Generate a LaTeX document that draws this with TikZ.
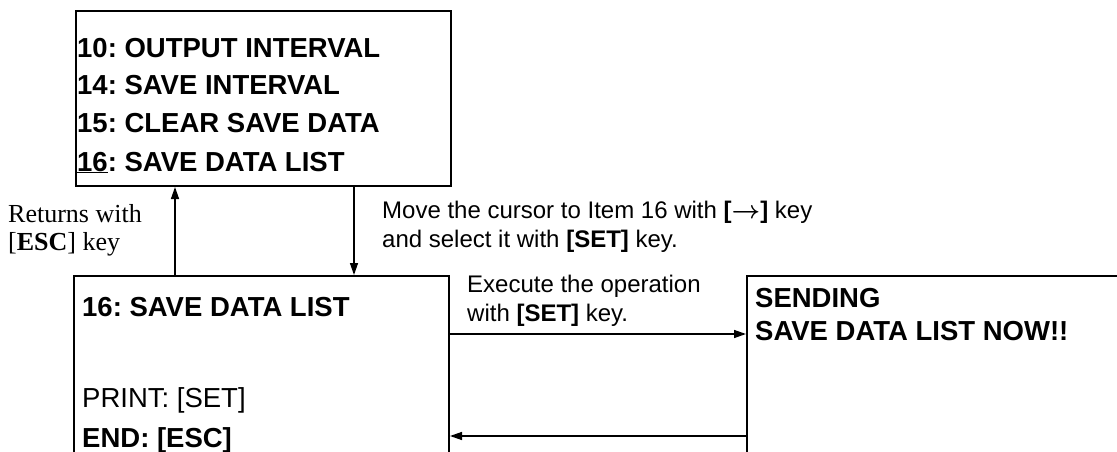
\documentclass[tikz,border=0pt]{standalone}
\usepackage{fontspec}
\setmainfont{Liberation Serif}
\newfontfamily\arialf{Liberation Sans}
\usetikzlibrary{arrows.meta}
\frenchspacing
\begin{document}
\begin{tikzpicture}[x=1pt,y=-1pt,
  screen/.style={draw=black,line width=2pt,rectangle,inner sep=0pt,anchor=north west},
  txt/.style={anchor=base west,inner sep=0pt},
  menu/.style={txt,font=\arialf\bfseries\fontsize{27.5}{30}\selectfont},
  plain/.style={txt,font=\arialf\fontsize{27.5}{30}\selectfont},
  note/.style={txt,font=\arialf\fontsize{24}{27}\selectfont},
  serifnote/.style={txt,font=\fontsize{26}{28}\selectfont},
  arr/.style={line width=1.4pt,-{Triangle[length=12pt,width=8pt]}}]
\useasboundingbox (0,0) rectangle (1117,452);
\clip (0,0) rectangle (1117,452);
% screens
\node[screen,minimum width=375pt,minimum height=175pt] (menuscr) at (75,10) {};
\node[screen,minimum width=375pt,minimum height=210pt] (listscr) at (73,275) {};
\node[screen,minimum width=420pt,minimum height=210pt] (sendscr) at (746,275) {};
% top screen text
\node[menu] (m10) at (77,58) {10: OUTPUT INTERVAL};
\node[menu] (m14) at (77,95) {14: SAVE INTERVAL};
\node[menu] (m15) at (77,132) {15: CLEAR SAVE DATA};
\node[menu] (m16) at (77,171) {\underline{16}: SAVE DATA LIST};
% list screen text
\node[menu] (l16) at (82,316) {16: SAVE DATA LIST};
\node[plain] (lprint) at (82,407) {PRINT: [SET]};
\node[menu] (lend) at (82,447) {END: [ESC]};
% sending screen text
\node[menu] (s1) at (755,307) {SENDING};
\node[menu] (s2) at (755,340) {SAVE DATA LIST NOW!!};
% notes
\node[serifnote] (r1) at (8,222) {Returns with};
\node[serifnote] (r2) at (8,250) {[\textbf{ESC}] key};
\node[note] (mv1) at (382,218) {Move the cursor to Item 16 with \textbf{[{\boldmath$\rightarrow$}]} key};
\node[note] (mv2) at (382,247) {and select it with \textbf{[SET]} key.};
\node[note] (ex1) at (467,292) {Execute the operation};
\node[note] (ex2) at (467,321) {with \textbf{[SET]} key.};
% connectors
\coordinate (upx) at (175,0);
\coordinate (downx) at (354,0);
\coordinate (goy) at (0,334);
\coordinate (backy) at (0,436);
\draw[arr] (listscr.north -| upx) -- (menuscr.south -| upx);
\draw[arr] (menuscr.south -| downx) -- (listscr.north -| downx);
\draw[arr] (listscr.east |- goy) -- (sendscr.west |- goy);
\draw[arr] (sendscr.west |- backy) -- (listscr.east |- backy);
\end{tikzpicture}
\end{document}
